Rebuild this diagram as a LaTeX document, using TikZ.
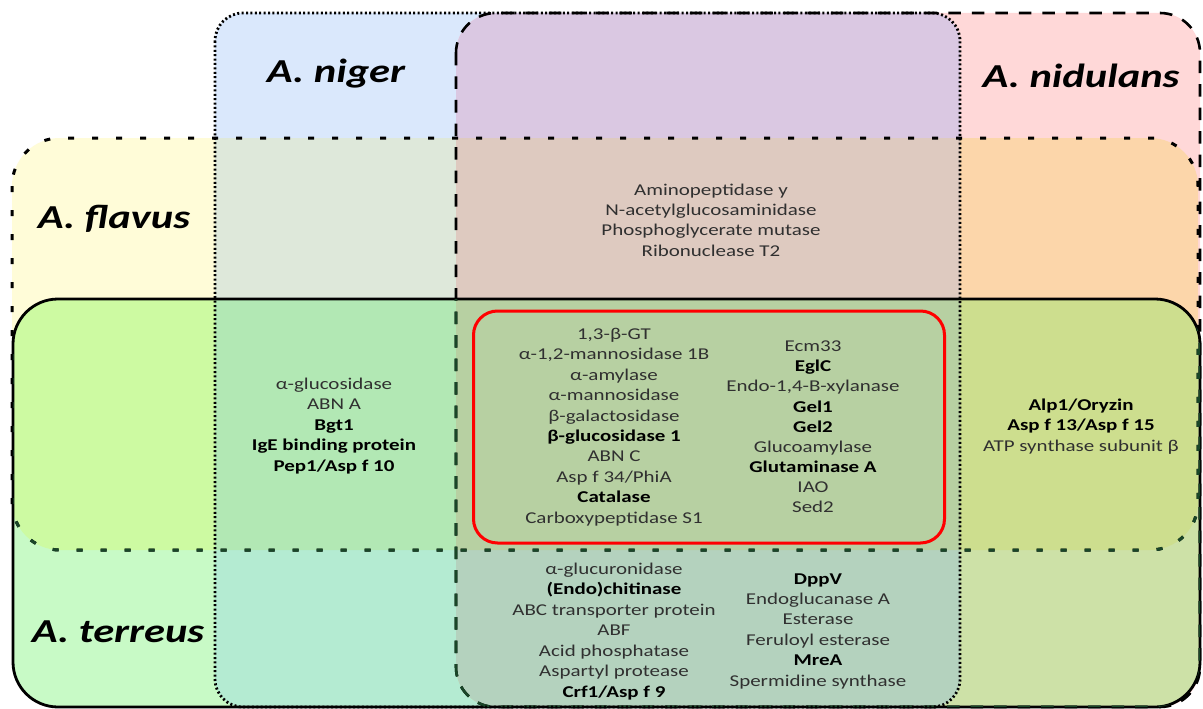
\documentclass[tikz,border=0pt]{standalone}
\usepackage{fontspec}
\setmainfont[FakeStretch=1.27]{Carlito}
\begin{document}
\begin{tikzpicture}[x=1pt,y=-1pt,
  lbl/.style={anchor=base,inner sep=0pt,font=\fontsize{16.5}{20}\selectfont,text=tgray},
  sp/.style={anchor=base,inner sep=0pt,font=\fontsize{33.5}{40}\selectfont\bfseries\itshape,text=black},
  nigerline/.style={line width=2.8pt,dash pattern=on 2pt off 2.4pt},
  nidline/.style={line width=2.6pt,dash pattern=on 12.5pt off 11pt},
  flavline/.style={line width=3pt,dash pattern=on 6pt off 18pt},
  terrline/.style={line width=2.8pt},
  redbox/.style={draw=red,line width=3pt,rounded corners=24pt}]
\definecolor{tgray}{RGB}{48,48,48}
\definecolor{cY}{RGB}{255,252,216}
\definecolor{cB}{RGB}{218,232,252}
\definecolor{cP}{RGB}{255,216,216}
\definecolor{cG}{RGB}{200,250,198}
\definecolor{cBP}{RGB}{218,200,226}
\definecolor{cYB}{RGB}{222,232,218}
\definecolor{cYP}{RGB}{252,214,170}
\definecolor{cYG}{RGB}{205,250,162}
\definecolor{cBG}{RGB}{180,235,210}
\definecolor{cPG}{RGB}{205,225,167}
\definecolor{cYBP}{RGB}{222,202,192}
\definecolor{cYBG}{RGB}{178,232,180}
\definecolor{cYPG}{RGB}{205,222,142}
\definecolor{cBPG}{RGB}{180,210,190}
\definecolor{cYBPG}{RGB}{183,208,162}
\definecolor{dgreen}{RGB}{25,70,40}
\newcommand\clipY{\clip[rounded corners=48pt] (12,138) rectangle (1198,550);}
\newcommand\clipB{\clip[rounded corners=28pt] (215,13) rectangle (960,707);}
\newcommand\clipP{\clip[rounded corners=40pt] (456,13) rectangle (1200,707);}
\newcommand\clipG{\clip[rounded corners=45pt] (13,299) rectangle (1200,707);}
\newcommand\allfill[1]{\fill[#1] (0,0) rectangle (1203,709);}
\newcommand\bb[1]{\textbf{\color{black}#1}}
\newcommand\lst[5]{\foreach \t [count=\i from 0] in {#5} {\node[lbl] (#4\i) at (#1,{#2+\i*#3}) {\t};}}
\useasboundingbox (0,0) rectangle (1203,709);
\fill[white] (0,0) rectangle (1203,709);
% single regions
\begin{scope}\clipY\allfill{cY}\end{scope}
\begin{scope}\clipB\allfill{cB}\end{scope}
\begin{scope}\clipP\allfill{cP}\end{scope}
\begin{scope}\clipG\allfill{cG}\end{scope}
% pairs
\begin{scope}\clipB\clipP\allfill{cBP}\end{scope}
\begin{scope}\clipY\clipB\allfill{cYB}\end{scope}
\begin{scope}\clipY\clipP\allfill{cYP}\end{scope}
\begin{scope}\clipY\clipG\allfill{cYG}\end{scope}
\begin{scope}\clipB\clipG\allfill{cBG}\end{scope}
\begin{scope}\clipP\clipG\allfill{cPG}\end{scope}
% triples
\begin{scope}\clipY\clipB\clipP\allfill{cYBP}\end{scope}
\begin{scope}\clipY\clipB\clipG\allfill{cYBG}\end{scope}
\begin{scope}\clipY\clipP\clipG\allfill{cYPG}\end{scope}
\begin{scope}\clipB\clipP\clipG\allfill{cBPG}\end{scope}
% all four
\begin{scope}\clipY\clipB\clipP\clipG\allfill{cYBPG}\end{scope}
% borders
\draw[terrline,rounded corners=45pt] (13,299) rectangle (1200,707);
\draw[flavline,rounded corners=48pt] (12,138) rectangle (1198,550);
\draw[nidline,rounded corners=40pt] (456,13) rectangle (1200,707);
\begin{scope}\clipG
\draw[flavline,draw=dgreen,rounded corners=48pt] (12,138) rectangle (1198,550);
\draw[nidline,draw=dgreen,rounded corners=40pt] (456,13) rectangle (1200,707);
\end{scope}
\draw[nigerline,rounded corners=28pt] (215,13) rectangle (960,707);
\node[redbox,minimum width=471pt,minimum height=232pt,anchor=north west] (core) at (472,309.5) {};
% species labels
\node[sp] (niger) at (336,83) {A. niger};
\node[sp] (nidulans) at (1081,88) {A. nidulans};
\node[sp] (flavus) at (114,228) {A. flavus};
\node[sp] (terreus) at (118,642) {A. terreus};
% lists
\lst{711}{195}{20.4}{top}{Aminopeptidase y,N-acetylglucosaminidase,Phosphoglycerate mutase,Ribonuclease T2}
\lst{334}{389}{20.6}{lft}{α-glucosidase,ABN A,\bb{Bgt1},\bb{IgE binding protein},\bb{Pep1/Asp f 10}}
\lst{614}{339.3}{20.44}{cl}{{1,3-β-GT},{α-1,2-mannosidase 1B},α-amylase,α-mannosidase,β-galactosidase,\bb{β-glucosidase 1},ABN C,Asp f 34/PhiA,\bb{Catalase},Carboxypeptidase S1}
\lst{813}{351.7}{20.1}{cr}{Ecm33,\bb{EglC},{Endo-1,4-B-xylanase},\bb{Gel1},\bb{Gel2},Glucoamylase,\bb{Glutaminase A},IAO,Sed2}
\lst{1081}{410}{20.6}{rt}{\bb{Alp1/Oryzin},\bb{Asp f 13/Asp f 15},ATP synthase subunit β}
\lst{614}{574}{20.5}{bl}{α-glucuronidase,\bb{(Endo)chitinase},ABC transporter protein,ABF,Acid phosphatase,Aspartyl protease,\bb{Crf1/Asp f 9}}
\lst{818}{584}{20.4}{br}{\bb{DppV},Endoglucanase A,Esterase,Feruloyl esterase,\bb{MreA},Spermidine synthase}
\end{tikzpicture}
\end{document}
